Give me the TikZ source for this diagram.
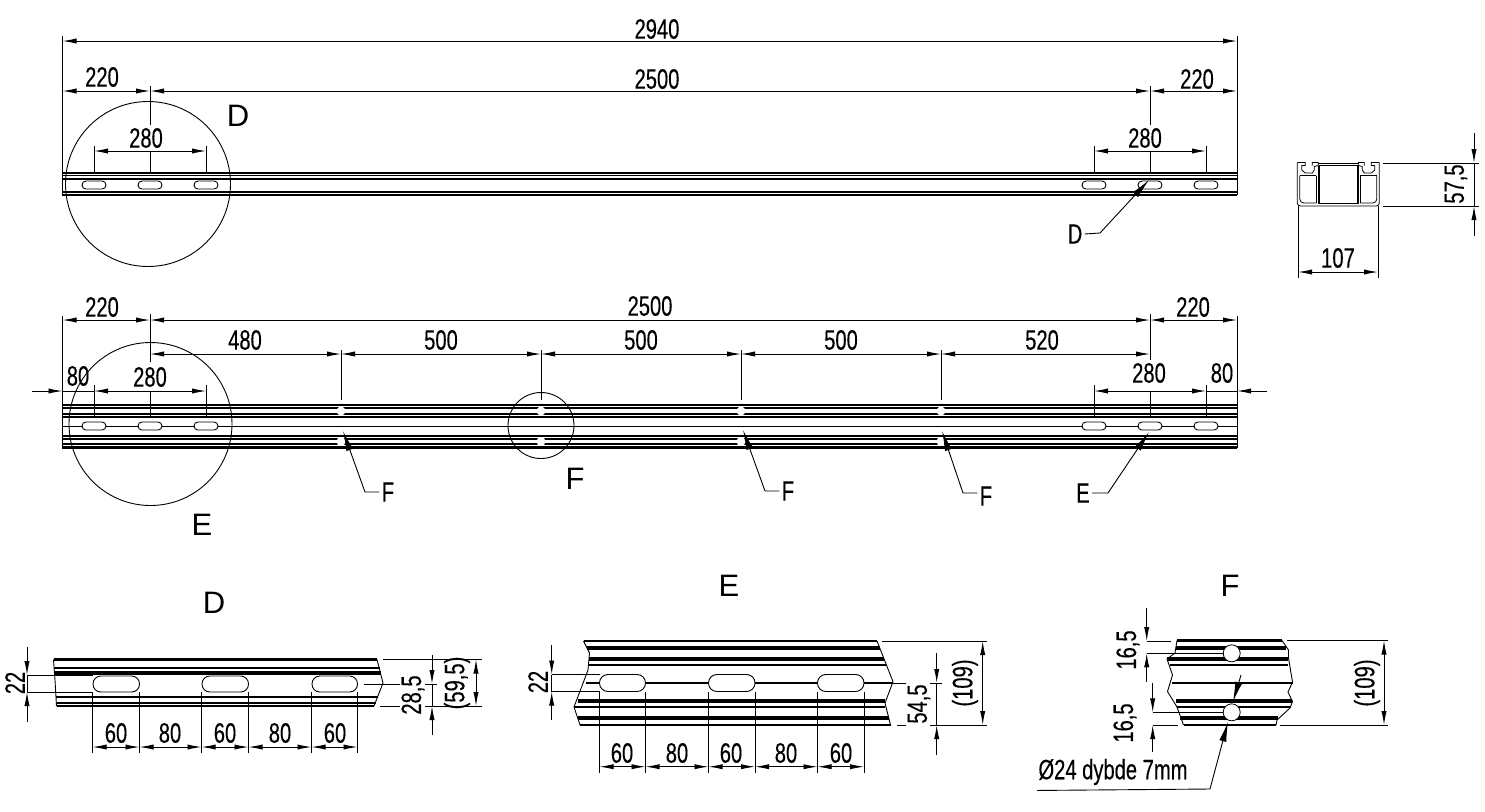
\documentclass[tikz,border=0pt]{standalone}
\usepackage{fontspec}
\newfontfamily\dimfont[FakeStretch=0.72,FakeBold=0.25]{Liberation Sans}
\newfontfamily\bigfont{Liberation Sans}
\usetikzlibrary{arrows.meta}
\tikzset{
	dimline/.style={
		line width=0.45pt,
		black,
	},
	dimboth/.style={
		dimline,
		{Latex[length=7pt,width=2.6pt]}-{Latex[length=7pt,width=2.6pt]},
	},
	dimtip/.style={
		dimline,
		-{Latex[length=7pt,width=2.6pt]},
	},
	leader/.style={
		line width=0.45pt,
		-{Latex[length=10pt,width=3.6pt]},
	},
	dimtxt/.style={
		font=\dimfont\fontsize{14}{14}\selectfont,
		inner sep=0pt,
	},
	bigtxt/.style={
		font=\bigfont\fontsize{15.5}{15.5}\selectfont,
		inner sep=0pt,
	},
	rail/.style={
		line width=1.15pt,
	},
	railthin/.style={
		line width=0.8pt,
	},
	railfat/.style={
		line width=1.9pt,
	},
	slot/.style={
		line width=0.45pt,
		fill=white,
		rounded corners=#1,
	},
	hole/.style={
		line width=0.4pt,
		fill=white,
	},
	detail/.style={
		line width=0.45pt,
	},
	profile/.style={
		line width=0.4pt,
	},
}
\begin{document}
\begin{tikzpicture}[x=0.5pt,y=-0.5pt]
	\useasboundingbox (0,0) rectangle (1485,811);
	% top rail
	\foreach \yy/\st in {173/rail,175.5/railthin,179/rail,192/rail,195/rail}
		\draw[\st] (62,\yy) -- (1237,\yy);
	\draw[dimline] (62.5,36) -- (62.5,195);
	\draw[dimline] (1237,36) -- (1237,195);
	\foreach \xx in {94,150,206,1094,1150,1206}
		\draw[slot=1.95pt] (\xx-12,181) rectangle (\xx+12,189);
	\draw[detail] (148,184) circle (82.5);
	\draw[dimboth] (62.5,41) -- (1237,41);
	\draw[dimboth] (62.5,91) -- (150,91);
	\draw[dimboth] (150,91) -- (1150,91);
	\draw[dimboth] (1150,91) -- (1237,91);
	\draw[dimline] (150,86) -- (150,125);
	\draw[dimline] (1150,86) -- (1150,125);
	\foreach \xo in {0,1000} {
		\draw[dimboth] (94+\xo,151) -- (206+\xo,151);
		\foreach \xx in {94,206}
			\draw[dimline] (\xx+\xo,146) -- (\xx+\xo,173);
		\draw[dimline] (150+\xo,151) -- (150+\xo,173);
	}
	\node[dimtxt] (w2940) at (657,29) {2940};
	\node[dimtxt] (t220l) at (102,77) {220};
	\node[dimtxt] (t2500) at (657,79) {2500};
	\node[dimtxt] (t220r) at (1197,79) {220};
	\node[dimtxt] (t280l) at (146,138) {280};
	\node[dimtxt] (t280r) at (1145,138) {280};
	\node[bigtxt] (markD) at (238,116) {D};
	\node[dimtxt] (lblD) at (1075,234) {D};
	\draw[leader] (lblD.east) ++(2,0) -- (1100,233) -- (1149,180);
	% end section
	\foreach \sx in {-1,1} {
		\draw[profile,rounded corners=1.5pt] (1338.3+\sx*41,162.5) -- (1338.3+\sx*41,206) -- (1338.3,206);
		\draw[profile] (1338.3+\sx*41,162.5) -- (1338.3+\sx*33,162.5) -- (1338.3+\sx*33,165.5) -- (1338.3+\sx*36.5,165.5) -- (1338.3+\sx*36.5,170) -- (1338.3+\sx*33,173) -- (1338.3+\sx*26,173) -- (1338.3+\sx*24,170) -- (1338.3+\sx*24,166.5) -- (1338.3+\sx*20,165.5) -- (1338.3+\sx*20,162.5) -- (1338.3+\sx*26,162.5) -- (1338.3+\sx*26,165.5);
		\draw[line width=0.7pt] (1338.3+\sx*19.5,165.5) -- (1338.3+\sx*19.5,203.5);
		\draw[profile] (1338.3+\sx*22,175.5) -- (1338.3+\sx*38.5,175.5);
		\draw[profile,rounded corners=2pt] (1338.3+\sx*38.5,175.5) -- (1338.3+\sx*38.5,203) -- (1338.3+\sx*22,203);
		\draw[profile] (1338.3+\sx*22,175.5) -- (1338.3+\sx*22,203);
	}
	\draw[profile] (1318,163) -- (1358.6,163);
	\draw[profile] (1319,165.5) -- (1357.6,165.5);
	\draw[line width=0.6pt] (1318.8,203.5) -- (1357.8,203.5);
	\draw[dimline] (1383,163) -- (1479,163);
	\draw[dimline] (1383,206) -- (1479,206);
	\draw[dimline] (1298,206) -- (1298,278);
	\draw[dimline] (1378,206) -- (1378,278);
	\draw[dimboth] (1298,272) -- (1378,272);
	\draw[dimtip] (1474,133) -- (1474,163);
	\draw[dimtip] (1474,236) -- (1474,206);
	\draw[dimline] (1474,163) -- (1474,206);
	\node[dimtxt] (t107) at (1338,258) {107};
	\node[dimtxt,rotate=90] (t575) at (1456,184) {57,5};
	% second rail
	\foreach \yy/\st in {405/rail,408/rail,414/rail,417/rail,436/rail,439/rail,444/rail,447.5/rail}
		\draw[\st] (62,\yy) -- (1237,\yy);
	\draw[detail] (62,426) -- (1237,426);
	\draw[dimline] (62.5,316) -- (62.5,448);
	\draw[dimline] (1237,316) -- (1237,448);
	\foreach \xx in {94,150,206,1094,1150,1206}
		\draw[slot=1.95pt] (\xx-12,422) rectangle (\xx+12,430);
	\foreach \xx in {341,541,741,941} {
		\fill[white] (\xx,411) circle (4.5);
		\fill[white] (\xx,441.5) circle (4.5);
		\draw[dimline] (\xx,350) -- (\xx,400);
	}
	\draw[detail] (150.5,424) circle (81.5);
	\draw[detail] (541,425.5) circle (33);
	\foreach \xa/\xb in {62.5/150,150/1150,1150/1237}
		\draw[dimboth] (\xa,320) -- (\xb,320);
	\foreach \xa/\xb in {150/341,341/541,541/741,741/941,941/1150}
		\draw[dimboth] (\xa,354) -- (\xb,354);
	\draw[dimline] (150,314) -- (150,362);
	\draw[dimline] (1150,314) -- (1150,360);
	\draw[dimboth] (94,391) -- (206,391);
	\draw[dimboth] (1094,391) -- (1206,391);
	\draw[dimtip] (32,391) -- (62.5,391);
	\draw[dimtip] (1267,391) -- (1237,391);
	\draw[dimline] (62.5,391) -- (94,391);
	\draw[dimline] (1206,391) -- (1237,391);
	\foreach \xx in {94,206,1094,1206}
		\draw[dimline] (\xx,385) -- (\xx,417);
	\foreach \xx in {150,1150}
		\draw[dimline] (\xx,391) -- (\xx,417);
	\node[dimtxt] (b220l) at (102,307) {220};
	\node[dimtxt] (b2500) at (650,306) {2500};
	\node[dimtxt] (b220r) at (1193,307) {220};
	\node[dimtxt] (b480) at (245,340) {480};
	\node[dimtxt] (b500a) at (441,340) {500};
	\node[dimtxt] (b500b) at (641,340) {500};
	\node[dimtxt] (b500c) at (841,340) {500};
	\node[dimtxt] (b520) at (1042,340) {520};
	\node[dimtxt] (b80l) at (78,376) {80};
	\node[dimtxt] (b280l) at (150,377) {280};
	\node[dimtxt] (b280r) at (1149,373) {280};
	\node[dimtxt] (b80r) at (1222,373) {80};
	\node[bigtxt] (markE) at (202,525) {E};
	\node[bigtxt] (markF) at (575,479) {F};
	\node[dimtxt] (lblFa) at (388,492) {F};
	\node[dimtxt] (lblFb) at (788,491) {F};
	\node[dimtxt] (lblFc) at (986,496) {F};
	\node[dimtxt] (lblE) at (1083,493) {E};
	\draw[leader] (lblFa.west) ++(-2,0) -- (365,492) -- (343,431);
	\draw[leader] (lblFb.west) ++(-2,0) -- (765,491) -- (743,430);
	\draw[leader] (lblFc.west) ++(-2,-3) -- (963,493) -- (942,431);
	\draw[leader] (lblE.east) ++(2,0) -- (1108,493) -- (1149,432);
	% detail D
	\node[bigtxt] (headD) at (214,603) {D};
	\foreach \yy/\st/\xa/\xb in {659.5/rail/53.5/377,667.7/rail/54/380,672.7/railfat/54.5/381,696.7/rail/56/378,702.7/rail/56.5/376,706/rail/56.5/374}
		\draw[\st] (\xa,\yy) -- (\xb,\yy);
	\draw[detail] (53.5,659.5) -- (55,680) -- (56.5,706);
	\draw[detail] (377,659.5) -- (383,683) -- (374,706);
	\foreach \xa/\xb in {93/139.5,202/248.5,312/357.5}
		\draw[slot=3.9pt] (\xa,676) rectangle (\xb,692);
	\foreach \xx in {92.5,139.5,201.5,248.5,311.5,357.5}
		\draw[dimline] (\xx,692) -- (\xx,752.5);
	\foreach \xa/\xb in {92.5/139.5,139.5/201.5,201.5/248.5,248.5/311.5,311.5/357.5}
		\draw[dimboth] (\xa,747) -- (\xb,747);
	\node[dimtxt] (d60a) at (116,733) {60};
	\node[dimtxt] (d80a) at (170,733) {80};
	\node[dimtxt] (d60b) at (225,733) {60};
	\node[dimtxt] (d80b) at (280,733) {80};
	\node[dimtxt] (d60c) at (335,733) {60};
	\draw[dimline] (27,675) -- (93,675);
	\draw[dimline] (27,692) -- (93,692);
	\draw[dimtip] (27,647) -- (27,675);
	\draw[dimtip] (27,722) -- (27,692);
	\draw[dimline] (27,675) -- (27,692);
	\node[dimtxt,rotate=90] (d22) at (15,683) {22};
	\draw[dimline] (383,659.5) -- (482,659.5);
	\draw[dimline] (364,684) -- (400,684);
	\draw[dimline] (425,684) -- (437,684);
	\draw[dimline] (380,706) -- (400,706);
	\draw[dimline] (425,706) -- (482,706);
	\draw[dimtip] (432,655) -- (432,684);
	\draw[dimtip] (432,735) -- (432,706);
	\draw[dimline] (432,684) -- (432,706);
	\draw[dimboth] (476,659.5) -- (476,706);
	\node[dimtxt,rotate=90] (d285) at (413,695) {28,5};
	\node[dimtxt,rotate=90] (d595) at (457,683) {(59,5)};
	% detail E
	\node[bigtxt] (headE) at (729,586) {E};
	\foreach \yy/\st/\xa/\xb in {641/rail/583.5/877,648/railfat/587/880,658.7/railfat/589/884,664.7/rail/589/886,701.3/railfat/578/885,707.3/rail/574/885,718/railfat/578/889,725/rail/580/890.5}
		\draw[\st] (\xa,\yy) -- (\xb,\yy);
	\draw[railthin] (586,682.7) -- (893,682.7);
	\draw[detail] (583.5,641) -- (589.5,653) -- (588,670) -- (574,707) -- (580,725);
	\draw[detail] (877,641) -- (893,681.7) -- (885,703) -- (890.5,725);
	\foreach \xa/\xb in {599.5/645.5,708.5/755,817.5/864}
		\draw[slot=4.2pt] (\xa,674.5) rectangle (\xb,691.5);
	\foreach \xx in {599.5,645.5,708.5,755,817.5,864}
		\draw[dimline] (\xx,691.5) -- (\xx,773);
	\foreach \xa/\xb in {599.5/645.5,645.5/708.5,708.5/755,755/817.5,817.5/864}
		\draw[dimboth] (\xa,766.7) -- (\xb,766.7);
	\node[dimtxt] (e60a) at (622,753) {60};
	\node[dimtxt] (e80a) at (677,753) {80};
	\node[dimtxt] (e60b) at (731,753) {60};
	\node[dimtxt] (e80b) at (786,753) {80};
	\node[dimtxt] (e60c) at (841,753) {60};
	\draw[dimline] (551.7,674.5) -- (600,674.5);
	\draw[dimline] (551.7,691.5) -- (600,691.5);
	\draw[dimtip] (551.7,645) -- (551.7,674.5);
	\draw[dimtip] (551.7,720) -- (551.7,691.5);
	\draw[dimline] (551.7,674.5) -- (551.7,691.5);
	\node[dimtxt,rotate=90] (e22) at (538,682) {22};
	\draw[dimline] (882,641) -- (987,641);
	\draw[dimline] (893,683) -- (906,683);
	\draw[dimline] (930,683) -- (942,683);
	\draw[dimline] (897,725) -- (906,725);
	\draw[dimline] (930,725) -- (987,725);
	\draw[dimtip] (936.7,653) -- (936.7,683);
	\draw[dimtip] (936.7,755) -- (936.7,725);
	\draw[dimline] (936.7,683) -- (936.7,725);
	\draw[dimboth] (982.7,641) -- (982.7,725);
	\node[dimtxt,rotate=90] (e545) at (919,704) {54,5};
	\node[dimtxt,rotate=90] (e109) at (965,683) {(109)};
	% detail F
	\node[bigtxt] (headF) at (1230,586) {F};
	\foreach \yy/\st/\xa/\xb in {640.5/rail/1177/1282,648/railfat/1176/1286,658.7/railfat/1167/1288,664.7/rail/1170/1288,701.3/railfat/1176/1292,707.3/rail/1177/1290,718/railfat/1180/1278,725/rail/1183.5/1276}
		\draw[\st] (\xa,\yy) -- (\xb,\yy);
	\draw[railthin] (1172,682.7) -- (1292.5,682.7);
	\draw[detail] (1177,640.5) -- (1175,653) -- (1167,659) -- (1172.5,675) -- (1167.5,691.5) -- (1177,707) -- (1183.5,725);
	\draw[detail] (1282,640.5) -- (1288.5,650) -- (1288.5,658) -- (1292.5,682) -- (1288,692) -- (1292.5,701.5) -- (1290,708) -- (1277,720) -- (1276,725);
	\draw[hole] (1231.7,653.3) circle (8.5);
	\draw[hole] (1231.7,712.3) circle (8.5);
	\draw[dimline] (1146.7,641) -- (1171,641);
	\draw[dimline] (1146.7,653.3) -- (1224,653.3);
	\draw[dimtip] (1146.7,608) -- (1146.7,641);
	\draw[dimtip] (1146.7,681.7) -- (1146.7,653.3);
	\draw[dimline] (1152.7,712.3) -- (1223,712.3);
	\draw[dimline] (1152.7,725) -- (1178,725);
	\draw[dimtip] (1152.7,683) -- (1152.7,712.3);
	\draw[dimtip] (1152.7,751.7) -- (1152.7,725);
	\draw[dimline] (1287,640.5) -- (1388,640.5);
	\draw[dimline] (1280,725) -- (1388,725);
	\draw[dimboth] (1384,640.5) -- (1384,725);
	\node[dimtxt,rotate=90] (f165a) at (1128,650) {16,5};
	\node[dimtxt,rotate=90] (f165b) at (1125,723) {16,5};
	\node[dimtxt,rotate=90] (f109) at (1367,683) {(109)};
	\node[dimtxt] (fnote) at (1113,772) {Ø24 dybde 7mm};
	\draw[leader] (fnote.south west) ++(-1,5) -- (1210,789) -- (1228,721.7);
	\draw[leader] (1241,675) -- (1233,701.7);
\end{tikzpicture}
\end{document}
